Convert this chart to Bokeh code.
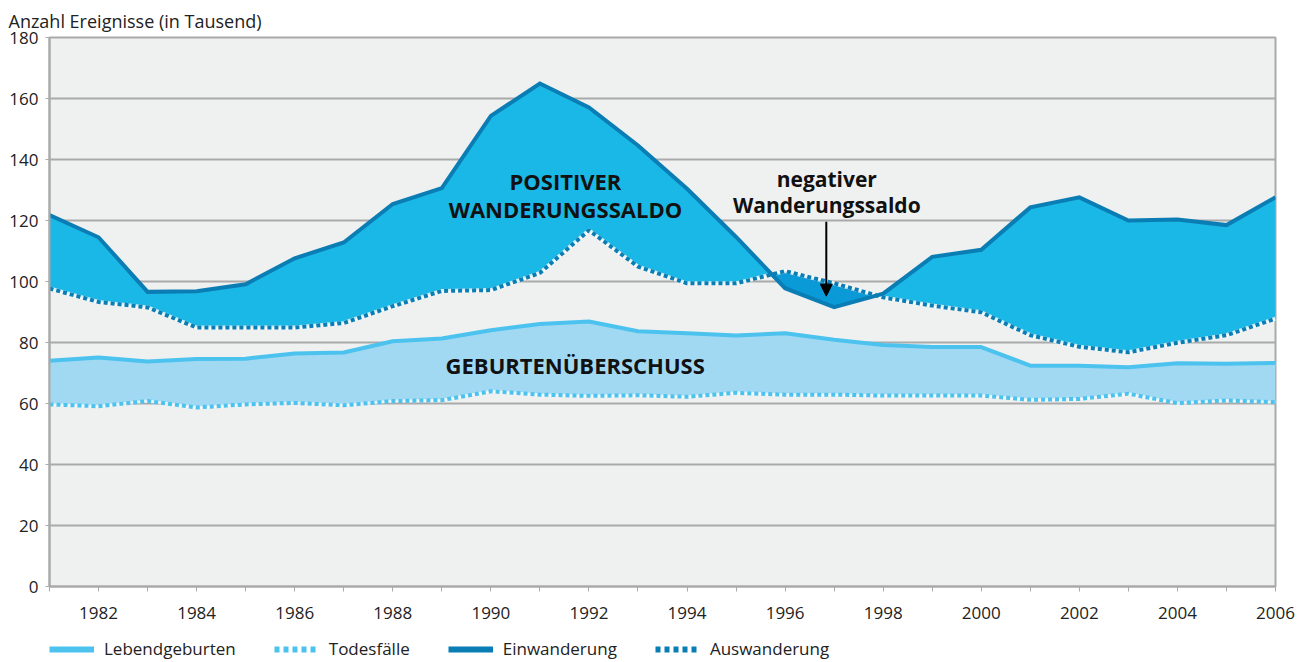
import numpy as np
from bokeh.plotting import figure
from bokeh.layouts import column
from bokeh.models import (FixedTicker, Legend, LegendItem, Label, Arrow, NormalHead, Range1d)
from bokeh.embed import file_html
from bokeh.resources import INLINE

years = list(range(1981, 2007))
lebendgeburten = [74.0, 75.1, 73.8, 74.6, 74.7, 76.4, 76.7, 80.4, 81.3, 84.0, 86.1, 86.9, 83.7,
                  83.0, 82.3, 83.0, 80.9, 79.2, 78.5, 78.5, 72.4, 72.4, 71.9, 73.2, 73.0, 73.3]
todesfaelle = [59.7, 59.1, 60.8, 58.7, 59.7, 60.2, 59.4, 60.8, 61.1, 64.0, 62.9, 62.5, 62.7,
               62.2, 63.5, 62.9, 62.9, 62.6, 62.6, 62.6, 61.2, 61.5, 63.2, 60.1, 61.0, 60.4]
einwanderung = [121.8, 114.5, 96.6, 96.8, 99.1, 107.6, 112.8, 125.4, 130.6, 154.3, 164.9, 157.1, 144.6,
                130.4, 114.6, 97.8, 91.6, 96.0, 108.1, 110.4, 124.3, 127.6, 120.0, 120.3, 118.5, 127.6]
auswanderung = [97.7, 93.3, 91.5, 84.9, 84.9, 84.9, 86.4, 91.9, 96.9, 97.2, 102.8, 116.8, 104.9,
                99.4, 99.4, 103.4, 99.4, 94.8, 92.1, 89.9, 82.4, 78.6, 76.8, 79.9, 82.4, 87.8]

y_ticks = [0, 20, 40, 60, 80, 100, 120, 140, 160, 180]
x_ticks = [1982, 1984, 1986, 1988, 1990, 1992, 1994, 1996, 1998, 2000, 2002, 2004, 2006]
x_minor = [1981, 1983, 1985, 1987, 1989, 1991, 1993, 1995, 1997, 1999, 2001, 2003, 2005]
series_names = ["Lebendgeburten", "Todesfälle", "Einwanderung", "Auswanderung"]

FONT = "Open Sans"
C_CYAN = "#1ab8e6"
C_NEG = "#0a9ad8"
C_DARK = "#0a7db4"
C_LIGHT = "#4cc2ee"
C_LIGHTFILL = "#a1d9f3"
C_BG = "#eff0f0"
C_GRID = "#aaaaaa"

p = figure(width=1298, height=630, x_range=(1981, 2006), y_range=(0, 180),
           output_backend="svg", toolbar_location=None,
           min_border_left=49, min_border_right=23, min_border_top=37, min_border_bottom=44)
p.background_fill_color = C_BG
p.border_fill_color = "white"
p.outline_line_color = C_GRID
p.outline_line_width = 2

p.title.text = "Anzahl Ereignisse (in Tausend)"
p.title.text_font = FONT
p.title.text_font_size = "18px"
p.title.text_font_style = "normal"
p.title.text_color = "#222222"
p.title.align = "left"
p.title.offset = -41
p.title.standoff = 9

# grids
p.xgrid.visible = False
p.ygrid.ticker = FixedTicker(ticks=y_ticks)
p.ygrid.grid_line_color = C_GRID
p.ygrid.grid_line_width = 2

# axes
p.yaxis.ticker = FixedTicker(ticks=y_ticks)
p.xaxis.ticker = FixedTicker(ticks=x_ticks, minor_ticks=x_minor)
for ax in (p.xaxis[0], p.yaxis[0]):
    ax.axis_line_color = C_GRID
    ax.axis_line_width = 2
    ax.major_tick_line_color = C_GRID
    ax.minor_tick_line_color = C_GRID
    ax.major_tick_line_width = 1
    ax.minor_tick_line_width = 1
    ax.major_tick_in = 0
    ax.minor_tick_in = 0
    ax.major_label_text_font = FONT
    ax.major_label_text_color = "#222222"
p.xaxis.major_tick_out = 5
p.xaxis.minor_tick_out = 5
p.xaxis.major_label_standoff = 15
p.xaxis.major_label_text_font_size = "17px"
p.yaxis.major_tick_out = 4
p.yaxis.minor_tick_out = 0
p.yaxis.major_label_standoff = 7
p.yaxis.major_label_text_font_size = "17px"

# saldo fills with crossing points
xs, es, as_ = [], [], []
for i in range(len(years)):
    xs.append(years[i]); es.append(einwanderung[i]); as_.append(auswanderung[i])
    if i < len(years) - 1:
        d0 = einwanderung[i] - auswanderung[i]
        d1 = einwanderung[i + 1] - auswanderung[i + 1]
        if d0 * d1 < 0:
            t = d0 / (d0 - d1)
            xc = years[i] + t
            yc = einwanderung[i] + t * (einwanderung[i + 1] - einwanderung[i])
            xs.append(xc); es.append(yc); as_.append(yc)
xs = np.array(xs); es = np.array(es); as_ = np.array(as_)
top = np.maximum(es, as_)
p.varea(x=xs, y1=as_, y2=top, fill_color=C_CYAN)
p.varea(x=xs, y1=es, y2=top, fill_color=C_NEG)

# Geburtenüberschuss fill
p.varea(x=years, y1=todesfaelle, y2=lebendgeburten, fill_color=C_LIGHTFILL)

# lines
p.line(years, todesfaelle, line_color="white", line_width=3, line_alpha=0.7)
p.line(years, todesfaelle, line_color=C_LIGHT, line_width=4, line_dash="4 3")
p.line(years, lebendgeburten, line_color=C_LIGHT, line_width=4)
p.line(years, auswanderung, line_color="white", line_width=4, line_alpha=0.8)
p.line(years, auswanderung, line_color=C_DARK, line_width=4, line_dash="4 3")
p.line(years, einwanderung, line_color=C_DARK, line_width=4, line_join="miter")

# annotations
def lab(x, y, txt, size="20px"):
    p.add_layout(Label(x=x, y=y, text=txt, text_font=FONT, text_font_size=size,
                       text_font_style="bold", text_align="center", text_baseline="middle",
                       text_color="#111111"))

lab(1991.52, 133.0, "POSITIVER", "22px")
lab(1991.52, 123.8, "WANDERUNGSSALDO", "22px")
lab(1996.85, 133.6, "negativer", "21px")
lab(1996.85, 125.0, "Wanderungssaldo", "21px")
lab(1991.72, 72.6, "GEBURTENÜBERSCHUSS", "22px")

p.add_layout(Arrow(x_start=1996.84, y_start=119.6, x_end=1996.84, y_end=95.2,
                   line_color="black", line_width=2,
                   end=NormalHead(size=12, fill_color="black", line_color="black")))

# legend strip as its own small figure
lg = figure(width=1298, height=30, x_range=Range1d(0, 1), y_range=Range1d(0, 1),
            output_backend="svg", toolbar_location=None,
            min_border_left=0, min_border_right=0, min_border_top=0, min_border_bottom=0)
lg.axis.visible = False
lg.grid.visible = False
lg.outline_line_color = None
lg.background_fill_color = "white"
g_leb = lg.line([-5, -4], [-5, -4], line_color=C_LIGHT, line_width=6)
g_tod = lg.line([-5, -4], [-5, -4], line_color=C_LIGHT, line_width=6, line_dash="5 4")
g_ein = lg.line([-5, -4], [-5, -4], line_color=C_DARK, line_width=6)
g_aus = lg.line([-5, -4], [-5, -4], line_color=C_DARK, line_width=6, line_dash="5 4")
legend = Legend(items=[LegendItem(label=series_names[0], renderers=[g_leb]),
                       LegendItem(label=series_names[1], renderers=[g_tod]),
                       LegendItem(label=series_names[2], renderers=[g_ein]),
                       LegendItem(label=series_names[3], renderers=[g_aus])],
                orientation="horizontal", location=(0, 0),
                label_text_font=FONT, label_text_font_size="17px", label_text_color="#222222",
                glyph_width=45, glyph_height=20, label_standoff=10, spacing=38,
                padding=0, margin=0, border_line_color=None, background_fill_alpha=0)
lg.add_layout(legend, "center")

layout = column(p, lg, spacing=0)
open("out.html", "w").write(file_html(layout, INLINE))
